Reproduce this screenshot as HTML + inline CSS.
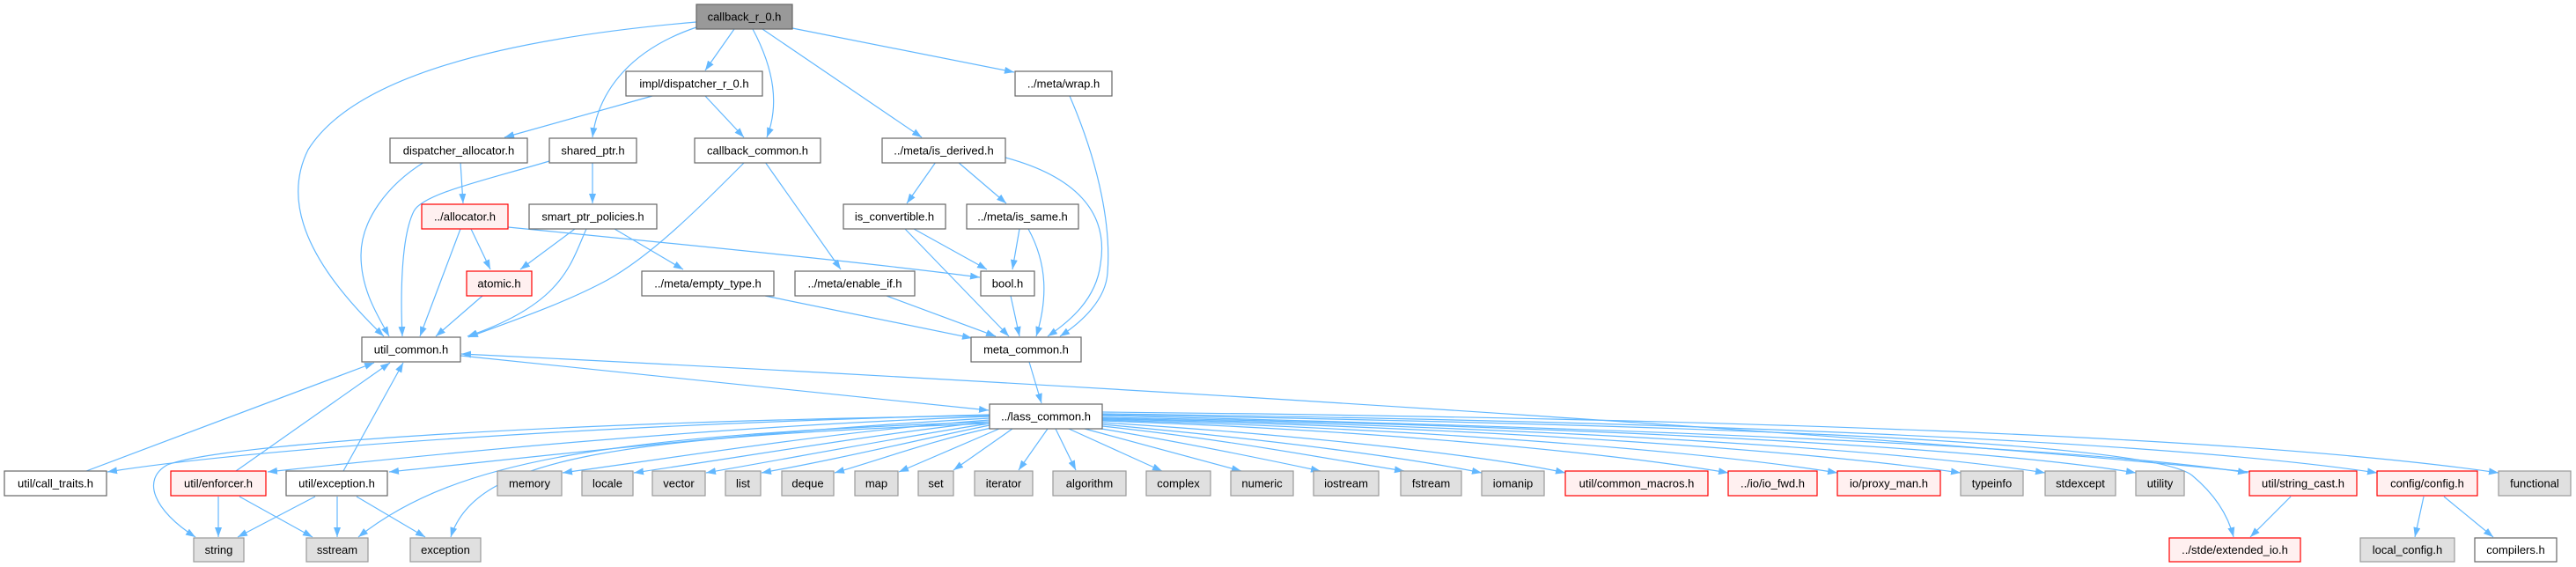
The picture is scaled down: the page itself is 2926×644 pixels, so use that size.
<!DOCTYPE html>
<html><head><meta charset="utf-8"><style>
html,body{margin:0;padding:0;background:#fff;}
svg{display:block;}
text{font-family:"Liberation Sans",sans-serif;font-size:13px;fill:#000;}
.n rect{fill:#fff;stroke:#666;stroke-width:1.2;}
.s rect{fill:#e0e0e0;stroke:#999;stroke-width:1.2;}
.r rect{fill:#fff0f0;stroke:#ff0000;stroke-width:1.2;}
.root rect{fill:#999;stroke:#666;stroke-width:1.2;}
.e path{fill:none;stroke:#63b8ff;stroke-width:1.2;marker-end:url(#a);}
</style></head><body>
<svg width="2926" height="644" viewBox="0 0 2926 644" xmlns="http://www.w3.org/2000/svg">
<defs><marker id="a" markerWidth="11" markerHeight="8" refX="11" refY="4" orient="auto" markerUnits="userSpaceOnUse"><path d="M0,0 L11,4 L0,8 z" fill="#63b8ff"/></marker></defs>
<g class="e">
<!-- top -->
<path d="M834,33 L801,80"/>
<path d="M855,33 C880,80 885,120 871,156"/>
<path d="M791,31 C720,55 680,100 673,156"/>
<path d="M866,33 L1047,156"/>
<path d="M900,32 L1152,82"/>
<path d="M791,25 C560,45 400,90 350,170 C320,230 350,300 436,382"/>
<path d="M741,109 L573,156"/>
<path d="M801,109 L845,156"/>
<path d="M523,184 L526,231"/>
<path d="M482,184 C440,210 410,250 410,290 C410,330 430,360 442,382"/>
<path d="M673,184 L673,231"/>
<path d="M624,183 C550,205 480,220 470,240 C455,270 455,340 457,382"/>
<path d="M846,184 C790,240 740,290 690,318 C640,345 580,365 532,383"/>
<path d="M869,184 L955,306"/>
<path d="M1063,184 L1030,231"/>
<path d="M1088,184 L1143,231"/>
<path d="M1142,179 C1220,200 1260,240 1250,300 C1245,340 1215,365 1190,382"/>
<path d="M1215,109 C1250,190 1262,260 1258,310 C1256,340 1230,365 1204,382"/>
<path d="M535,260 L557,306"/>
<path d="M523,260 L477,382"/>
<path d="M577,258 C800,280 1000,300 1113,315"/>
<path d="M653,260 L591,306"/>
<path d="M666,260 C648,300 640,345 531,382"/>
<path d="M698,260 L776,306"/>
<path d="M548,336 L495,382"/>
<path d="M1038,260 L1121,306"/>
<path d="M1028,260 L1146,382"/>
<path d="M1158,260 L1150,306"/>
<path d="M1168,260 C1190,300 1190,340 1177,382"/>
<path d="M1007,336 L1131,382"/>
<path d="M869,336 L1104,384"/>
<path d="M1148,336 L1158,382"/>
<path d="M1169,411 L1183,458"/>
<path d="M523,404 L1123,466"/>
<path d="M2555,536 C2200,500 1400,445 524,402"/>
<!-- back edges -->
<path d="M98,535 L425,412"/>
<path d="M268,535 L443,412"/>
<path d="M390,535 L458,412"/>
<!-- lass fan left -->
<path d="M1124,471 C700,482 300,508 122,536"/>
<path d="M1124,473 C800,485 500,515 304,536"/>
<path d="M1124,475 C850,490 600,520 442,536"/>
<path d="M1124,472 C600,480 250,505 190,528 C160,545 175,580 222,610"/>
<path d="M1124,479 C700,495 520,520 407,610"/>
<path d="M1124,481 C700,497 540,520 512,610"/>
<path d="M1124,477 C950,490 800,515 639,537"/>
<path d="M1124,479 C1000,492 850,518 720,537"/>
<path d="M1124,481 C1030,495 900,520 802,537"/>
<path d="M1124,483 C1050,498 950,522 865,537"/>
<path d="M1126,486 C1060,500 1000,522 948,537"/>
<path d="M1135,487 L1021,536"/>
<path d="M1150,487 L1083,534"/>
<path d="M1190,487 L1157,534"/>
<path d="M1199,487 L1222,534"/>
<path d="M1214,487 L1320,535"/>
<path d="M1232,487 L1410,535"/>
<path d="M1245,486 C1330,500 1420,518 1500,535"/>
<path d="M1252,484 C1400,500 1500,520 1595,535"/>
<path d="M1252,482 C1450,500 1600,520 1683,537"/>
<path d="M1252,480 C1500,495 1700,520 1778,537"/>
<path d="M1252,478 C1600,490 1850,518 1963,537"/>
<path d="M1252,477 C1650,488 1950,515 2087,537"/>
<path d="M1252,476 C1700,486 2050,512 2227,537"/>
<path d="M1252,475 C1750,485 2150,510 2323,537"/>
<path d="M1252,474 C1800,484 2250,508 2426,537"/>
<path d="M1252,472 C1800,485 2350,505 2553,537"/>
<path d="M1252,471 C1900,482 2440,500 2490,540 C2520,565 2532,590 2537,610"/>
<path d="M1252,470 C1900,478 2450,500 2700,537"/>
<path d="M1252,468 C1950,475 2550,495 2838,537"/>
<!-- lower -->
<path d="M248,564 L248,610"/>
<path d="M272,564 L355,610"/>
<path d="M358,564 L270,610"/>
<path d="M383,564 L383,610"/>
<path d="M405,564 L483,610"/>
<path d="M2602,564 L2556,610"/>
<path d="M2753,564 L2743,610"/>
<path d="M2776,564 L2832,610"/>
</g>
<!-- nodes -->
<g class="root"><rect x="791" y="5" width="109" height="28"/><text x="845.5" y="23.5" text-anchor="middle">callback_r_0.h</text></g>
<g class="n"><rect x="711" y="81" width="155" height="28"/><text x="788.5" y="99.5" text-anchor="middle">impl/dispatcher_r_0.h</text></g>
<g class="n"><rect x="1153" y="81" width="110" height="28"/><text x="1208" y="99.5" text-anchor="middle">../meta/wrap.h</text></g>
<g class="n"><rect x="443" y="157" width="156" height="28"/><text x="521" y="175.5" text-anchor="middle">dispatcher_allocator.h</text></g>
<g class="n"><rect x="624" y="157" width="99" height="28"/><text x="673.5" y="175.5" text-anchor="middle">shared_ptr.h</text></g>
<g class="n"><rect x="789" y="157" width="143" height="28"/><text x="860.5" y="175.5" text-anchor="middle">callback_common.h</text></g>
<g class="n"><rect x="1002" y="157" width="140" height="28"/><text x="1072" y="175.5" text-anchor="middle">../meta/is_derived.h</text></g>
<g class="r"><rect x="479" y="232" width="98" height="28"/><text x="528" y="250.5" text-anchor="middle">../allocator.h</text></g>
<g class="n"><rect x="601" y="232" width="145" height="28"/><text x="673.5" y="250.5" text-anchor="middle">smart_ptr_policies.h</text></g>
<g class="n"><rect x="958" y="232" width="116" height="28"/><text x="1016" y="250.5" text-anchor="middle">is_convertible.h</text></g>
<g class="n"><rect x="1098" y="232" width="127" height="28"/><text x="1161.5" y="250.5" text-anchor="middle">../meta/is_same.h</text></g>
<g class="r"><rect x="530" y="308" width="74" height="28"/><text x="567" y="326.5" text-anchor="middle">atomic.h</text></g>
<g class="n"><rect x="729" y="308" width="150" height="28"/><text x="804" y="326.5" text-anchor="middle">../meta/empty_type.h</text></g>
<g class="n"><rect x="903" y="308" width="136" height="28"/><text x="971" y="326.5" text-anchor="middle">../meta/enable_if.h</text></g>
<g class="n"><rect x="1114" y="308" width="61" height="28"/><text x="1144.5" y="326.5" text-anchor="middle">bool.h</text></g>
<g class="n"><rect x="411" y="383" width="112" height="28"/><text x="467" y="401.5" text-anchor="middle">util_common.h</text></g>
<g class="n"><rect x="1103" y="383" width="125" height="28"/><text x="1165.5" y="401.5" text-anchor="middle">meta_common.h</text></g>
<g class="n"><rect x="1124" y="459" width="128" height="28"/><text x="1188" y="477.5" text-anchor="middle">../lass_common.h</text></g>
<!-- row 7 -->
<g class="n"><rect x="5" y="535" width="116" height="28"/><text x="63" y="553.5" text-anchor="middle">util/call_traits.h</text></g>
<g class="r"><rect x="194" y="535" width="108" height="28"/><text x="248" y="553.5" text-anchor="middle">util/enforcer.h</text></g>
<g class="n"><rect x="325" y="535" width="115" height="28"/><text x="382.5" y="553.5" text-anchor="middle">util/exception.h</text></g>
<g class="s"><rect x="565" y="535" width="73" height="28"/><text x="601.5" y="553.5" text-anchor="middle">memory</text></g>
<g class="s"><rect x="661" y="535" width="58" height="28"/><text x="690" y="553.5" text-anchor="middle">locale</text></g>
<g class="s"><rect x="741" y="535" width="60" height="28"/><text x="771" y="553.5" text-anchor="middle">vector</text></g>
<g class="s"><rect x="824" y="535" width="40" height="28"/><text x="844" y="553.5" text-anchor="middle">list</text></g>
<g class="s"><rect x="888" y="535" width="59" height="28"/><text x="917.5" y="553.5" text-anchor="middle">deque</text></g>
<g class="s"><rect x="971" y="535" width="49" height="28"/><text x="995.5" y="553.5" text-anchor="middle">map</text></g>
<g class="s"><rect x="1043" y="535" width="40" height="28"/><text x="1063" y="553.5" text-anchor="middle">set</text></g>
<g class="s"><rect x="1107" y="535" width="66" height="28"/><text x="1140" y="553.5" text-anchor="middle">iterator</text></g>
<g class="s"><rect x="1196" y="535" width="83" height="28"/><text x="1237.5" y="553.5" text-anchor="middle">algorithm</text></g>
<g class="s"><rect x="1302" y="535" width="73" height="28"/><text x="1338.5" y="553.5" text-anchor="middle">complex</text></g>
<g class="s"><rect x="1398" y="535" width="71" height="28"/><text x="1433.5" y="553.5" text-anchor="middle">numeric</text></g>
<g class="s"><rect x="1492" y="535" width="74" height="28"/><text x="1529" y="553.5" text-anchor="middle">iostream</text></g>
<g class="s"><rect x="1591" y="535" width="69" height="28"/><text x="1625.5" y="553.5" text-anchor="middle">fstream</text></g>
<g class="s"><rect x="1683" y="535" width="71" height="28"/><text x="1718.5" y="553.5" text-anchor="middle">iomanip</text></g>
<g class="r"><rect x="1778" y="535" width="162" height="28"/><text x="1859" y="553.5" text-anchor="middle">util/common_macros.h</text></g>
<g class="r"><rect x="1963" y="535" width="101" height="28"/><text x="2013.5" y="553.5" text-anchor="middle">../io/io_fwd.h</text></g>
<g class="r"><rect x="2087" y="535" width="117" height="28"/><text x="2145.5" y="553.5" text-anchor="middle">io/proxy_man.h</text></g>
<g class="s"><rect x="2227" y="535" width="71" height="28"/><text x="2262.5" y="553.5" text-anchor="middle">typeinfo</text></g>
<g class="s"><rect x="2323" y="535" width="80" height="28"/><text x="2363" y="553.5" text-anchor="middle">stdexcept</text></g>
<g class="s"><rect x="2426" y="535" width="55" height="28"/><text x="2453.5" y="553.5" text-anchor="middle">utility</text></g>
<g class="r"><rect x="2555" y="535" width="122" height="28"/><text x="2616" y="553.5" text-anchor="middle">util/string_cast.h</text></g>
<g class="r"><rect x="2700" y="535" width="114" height="28"/><text x="2757" y="553.5" text-anchor="middle">config/config.h</text></g>
<g class="s"><rect x="2838" y="535" width="82" height="28"/><text x="2879" y="553.5" text-anchor="middle">functional</text></g>
<!-- row 8 -->
<g class="s"><rect x="220" y="611" width="57" height="27"/><text x="248.5" y="629" text-anchor="middle">string</text></g>
<g class="s"><rect x="348" y="611" width="70" height="27"/><text x="383" y="629" text-anchor="middle">sstream</text></g>
<g class="s"><rect x="466" y="611" width="80" height="27"/><text x="506" y="629" text-anchor="middle">exception</text></g>
<g class="r"><rect x="2464" y="611" width="149" height="27"/><text x="2538.5" y="629" text-anchor="middle">../stde/extended_io.h</text></g>
<g class="s"><rect x="2681" y="611" width="107" height="27"/><text x="2734.5" y="629" text-anchor="middle">local_config.h</text></g>
<g class="n"><rect x="2811" y="611" width="93" height="27"/><text x="2857.5" y="629" text-anchor="middle">compilers.h</text></g>
</svg>
</body></html>
